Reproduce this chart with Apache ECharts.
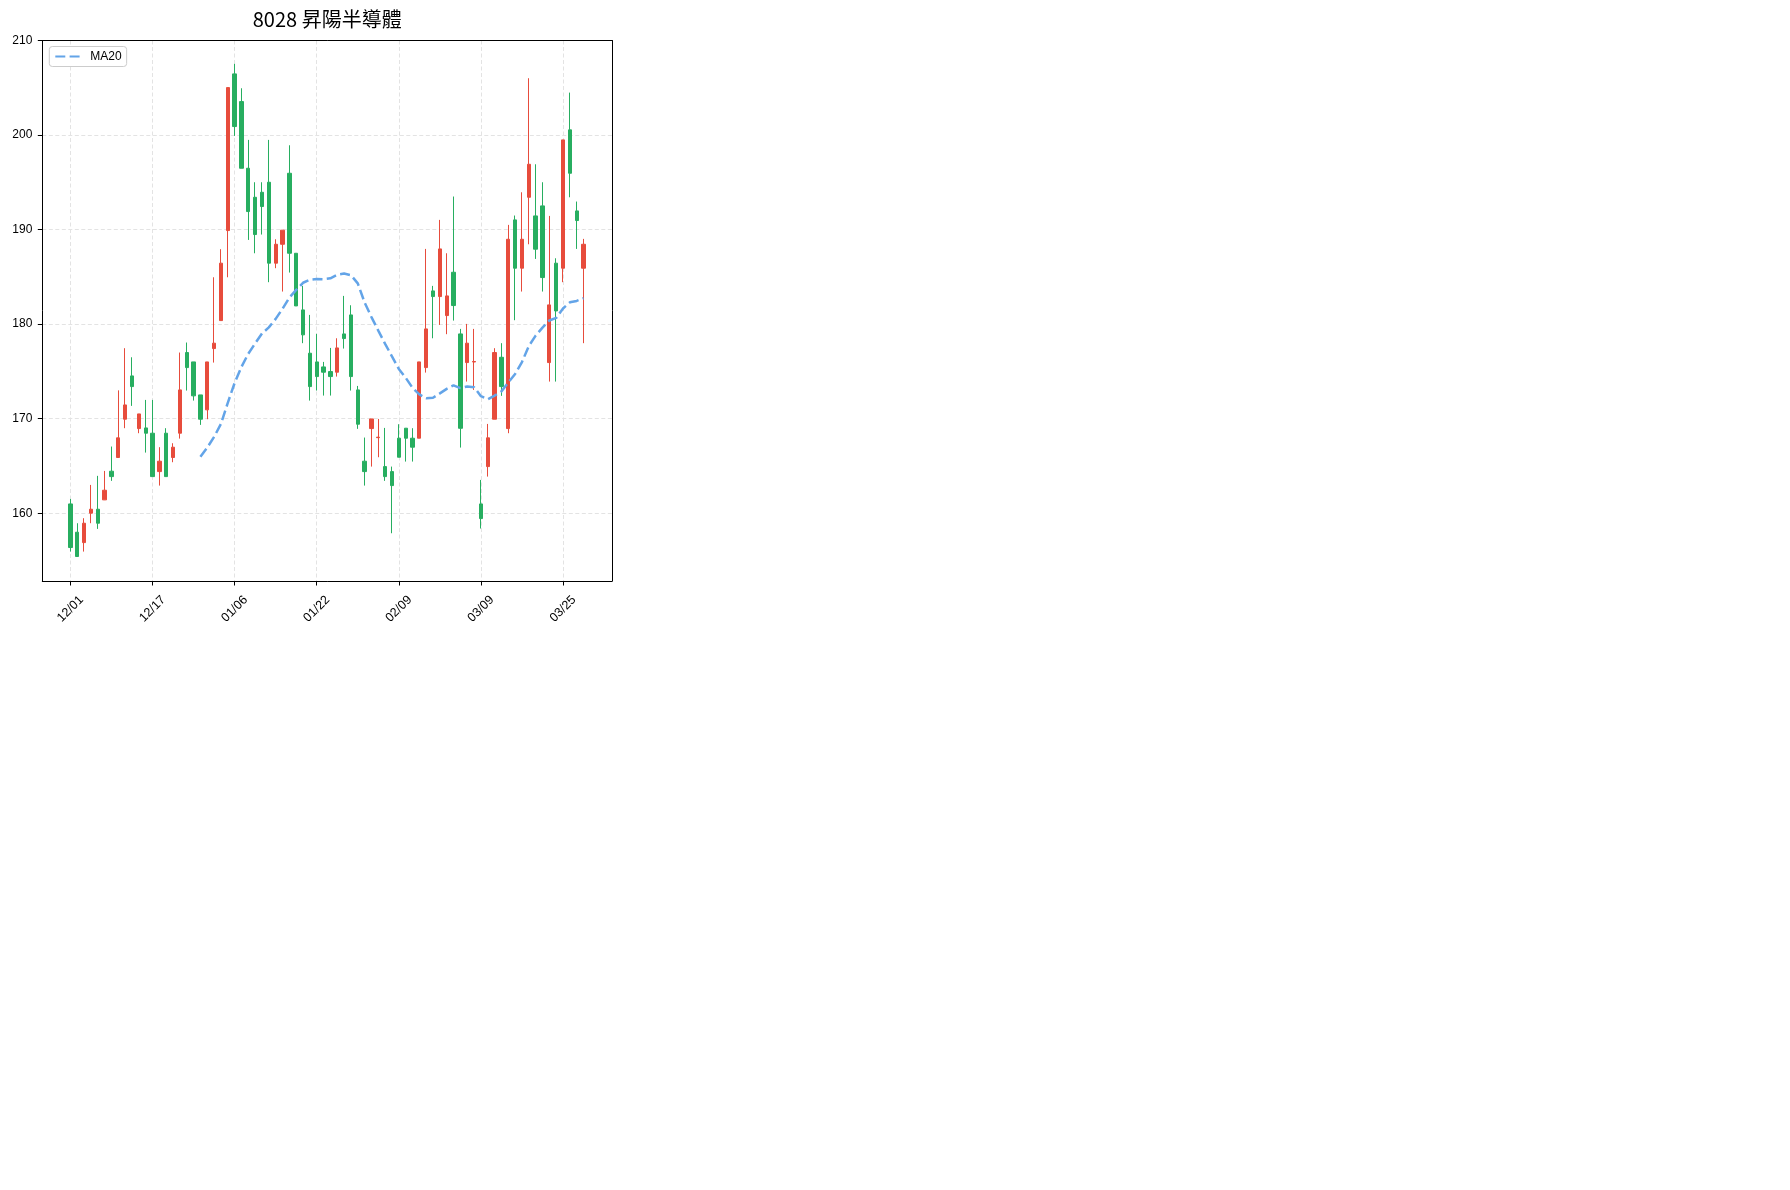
<!DOCTYPE html>
<html><head><meta charset="utf-8">
<script src="https://cdn.jsdelivr.net/npm/echarts@6/dist/echarts.min.js"></script>
<style>html,body{margin:0;padding:0;background:#fff}#c{width:1790px;height:1190px}</style>
</head><body><div id="c"></div>
<script>
const dates = ['12/01','12/02','12/03','12/04','12/05','12/08','12/09','12/10','12/11','12/12',
  '12/15','12/16','12/17','12/18','12/19','12/22','12/23','12/24','12/26','12/29',
  '12/30','12/31','01/02','01/05','01/06','01/07','01/08','01/09','01/12','01/13',
  '01/14','01/15','01/16','01/19','01/20','01/21','01/22','01/23','01/26','01/27',
  '01/28','01/29','01/30','02/02','02/03','02/04','02/05','02/06','02/09','02/10',
  '02/11','02/23','02/24','02/25','02/26','03/02','03/03','03/04','03/05','03/06',
  '03/09','03/10','03/11','03/12','03/13','03/16','03/17','03/18','03/19','03/20',
  '03/23','03/24','03/25','03/26','03/27','03/30'];
const opens = [160.99,158.00,156.90,160.01,160.43,161.42,164.45,165.90,169.95,174.53,
  168.96,169.03,168.47,164.41,168.47,165.90,168.47,177.00,176.01,172.52,
  170.94,177.42,180.38,189.90,206.47,203.54,196.49,193.42,193.95,195.01,
  186.45,188.45,195.96,187.50,181.51,176.93,176.01,175.48,174.99,174.92,
  178.97,180.98,173.05,165.51,168.96,168.00,164.94,164.41,167.94,169.00,
  167.94,167.94,175.41,183.52,182.92,180.91,185.49,178.97,175.94,176.00,
  160.99,164.94,169.95,176.50,168.96,191.03,185.92,193.42,191.45,192.51,
  175.94,186.45,185.92,200.55,191.98,185.92];
const closes = [156.38,155.43,158.95,160.43,158.95,162.44,163.88,167.98,171.46,173.40,
  170.51,168.47,163.88,165.51,163.88,166.99,173.05,175.41,172.42,169.95,
  176.01,177.99,186.45,205.02,200.90,196.49,191.91,189.48,192.44,186.45,
  188.45,189.94,187.50,181.93,178.87,173.40,174.46,174.92,174.46,177.49,
  178.48,174.46,169.42,164.41,169.98,168.05,163.88,162.93,165.93,167.94,
  166.99,176.01,179.50,182.92,187.96,182.99,181.97,168.99,177.99,176.05,
  159.44,167.98,177.00,173.40,188.98,185.92,188.98,196.91,187.93,184.93,
  182.04,181.40,199.49,195.96,190.96,188.45];
const lows = [155.95,155.43,155.95,158.95,158.35,161.40,163.43,165.90,169.00,171.36,
  168.47,166.42,163.88,162.93,163.88,165.40,167.90,172.98,171.92,169.35,
  169.95,175.94,180.38,184.96,199.91,196.49,188.91,187.50,189.48,184.44,
  185.92,183.45,185.46,181.93,177.99,171.92,172.98,172.45,172.45,174.46,
  177.42,172.98,168.93,162.93,164.94,165.93,163.43,157.89,165.93,165.47,
  165.47,167.94,174.88,178.51,179.92,178.94,180.38,166.95,173.93,173.05,
  158.39,163.88,169.95,172.42,168.47,180.42,183.45,188.45,186.90,183.45,
  173.93,173.93,184.44,193.42,187.96,177.99];
const highs = [161.52,158.95,159.48,163.00,163.96,164.48,167.06,173.00,177.46,176.50,
  170.51,171.99,171.99,166.99,169.00,167.41,177.00,178.06,176.01,172.52,
  176.01,184.96,187.93,205.02,207.53,204.95,199.49,195.01,195.01,199.49,
  188.98,189.94,198.92,187.50,184.05,180.98,178.97,176.01,177.49,178.51,
  182.99,182.00,173.47,168.01,169.98,169.98,169.03,164.94,169.42,169.00,
  169.00,176.01,187.96,184.05,191.03,187.50,193.50,179.50,180.03,179.50,
  163.53,169.45,177.46,177.99,190.50,191.49,193.95,206.01,196.91,195.01,
  191.45,186.97,199.49,204.49,192.97,189.02];
const ma20 = [null,null,null,null,null,null,null,null,null,null,
  null,null,null,null,null,null,null,null,null,165.97,
  166.95,168.08,169.45,171.68,173.78,175.48,176.88,177.96,179.01,179.66,
  180.56,181.63,182.81,183.63,184.38,184.70,184.77,184.75,184.85,185.23,
  185.35,185.18,184.32,182.29,180.75,179.32,177.92,176.59,175.27,174.34,
  173.27,172.57,172.17,172.22,172.68,173.16,173.53,173.24,173.41,173.34,
  172.39,172.06,172.44,172.89,173.84,174.74,175.99,177.69,178.79,179.64,
  180.39,180.66,181.66,182.31,182.46,182.74];
const xTickIdx = [0,12,24,36,48,60,72];
const yTicks = [160,170,180,190,200,210];

const candleData = dates.map((d, i) => [i, opens[i], closes[i], lows[i], highs[i]]);
const maData = ma20.map((v, i) => [i, v]);

const UP = '#e74c3c', DOWN = '#27ae60', MA = '#63a4e8';
const X_MIN = -4.11, X_MAX = 79.16, Y_MIN = 152.84, Y_MAX = 210;
const frameOnly = {
  axisLine: {show: true, onZero: false, lineStyle: {color: '#000', width: 1}},
  axisTick: {show: false}, axisLabel: {show: false}, splitLine: {show: false}, z: 10
};
const chart = echarts.init(document.getElementById('c'), null, {renderer: 'canvas'});
chart.setOption({
  animation: false,
  backgroundColor: '#fff',
  title: {
    text: '8028 昇陽半導體', left: 327.2, top: 9, textAlign: 'center', padding: 0,
    textStyle: {fontFamily: 'Noto Sans CJK TC', fontSize: 20, fontWeight: 'normal', color: '#000'}
  },
  legend: {
    data: ['MA20'], left: 49.3, top: 46.5, orient: 'vertical',
    padding: [4, 5, 4, 5], itemWidth: 25, itemHeight: 12,
    borderColor: '#cccccc', borderWidth: 1, borderRadius: 3, backgroundColor: '#fff',
    itemStyle: {opacity: 0},
    textStyle: {fontFamily: 'Liberation Sans', fontSize: 12, color: '#000', padding: [0, 0, 0, 5]}
  },
  grid: {left: 42.3, top: 40.5, width: 569.7, height: 540.5, show: false},
  xAxis: [{
    type: 'value', min: X_MIN, max: X_MAX, position: 'bottom',
    axisLine: {show: true, onZero: false, lineStyle: {color: '#000', width: 1}},
    axisTick: {show: true, customValues: xTickIdx, length: 4.5, lineStyle: {color: '#000'}},
    axisLabel: {customValues: xTickIdx, formatter: v => dates[v], rotate: 45, align: 'center',
      verticalAlign: 'middle', margin: 28, fontFamily: 'Liberation Sans', fontSize: 12.5, color: '#000'},
    splitLine: {show: true, lineStyle: {color: '#e3e3e3', width: 1, type: [4, 2.5]}}
  }, Object.assign({type: 'value', min: X_MIN, max: X_MAX, position: 'top'}, frameOnly)],
  yAxis: [{
    type: 'value', min: Y_MIN, max: Y_MAX, position: 'left',
    axisLine: {show: true, onZero: false, lineStyle: {color: '#000', width: 1}},
    axisTick: {show: true, customValues: yTicks, length: 4.5, lineStyle: {color: '#000'}},
    axisLabel: {customValues: yTicks, margin: 10, fontFamily: 'Liberation Sans', fontSize: 12, color: '#000'},
    splitLine: {show: true, lineStyle: {color: '#e3e3e3', width: 1, type: [4, 2.5]}}
  }, Object.assign({type: 'value', min: Y_MIN, max: Y_MAX, position: 'right'}, frameOnly)],
  series: [
    {
      name: 'K', type: 'candlestick', data: candleData, encode: {x: 0, y: [1, 2, 3, 4]},
      barWidth: 3.8,
      itemStyle: {color: UP, color0: DOWN, borderColor: UP, borderColor0: DOWN, borderWidth: 1}
    },
    {
      name: 'MA20', type: 'line', data: maData, symbol: 'none', showSymbol: false, z: 5,
      lineStyle: {color: MA, width: 2.5, type: [10, 4.3]}, itemStyle: {color: MA}
    }
  ]
});
</script></body></html>
